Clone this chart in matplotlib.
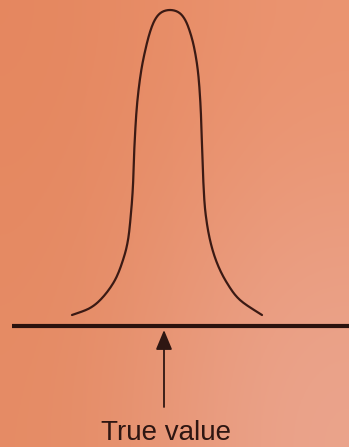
import numpy as np
import matplotlib
matplotlib.use("Agg")
import matplotlib.pyplot as plt
from matplotlib.colors import to_rgb

curve_x = [72, 90, 103, 115, 123, 128, 131, 133, 134.5, 137, 141, 146, 151, 156, 162, 170,
           178, 184, 189, 194, 198, 200.5, 202, 203.5, 205.5, 210, 217, 227, 240, 262]
curve_y = [315, 308, 297, 280, 260, 240, 213, 185, 145, 105, 72, 47, 29, 18, 12, 10,
           12, 18, 29, 47, 72, 105, 145, 185, 213, 240, 263, 283, 300, 315]

true_value = 164
baseline = 326
label = "True value"


def smooth(xs, ys, n=12):
    # Catmull-Rom pass so the traced outline is drawn without corners
    p = np.column_stack([xs, ys]).astype(float)
    p = np.vstack([p[0], p, p[-1]])
    out = []
    t = np.linspace(0, 1, n, endpoint=False)[:, None]
    for i in range(1, len(p) - 2):
        p0, p1, p2, p3 = p[i - 1], p[i], p[i + 1], p[i + 2]
        seg = 0.5 * (2 * p1 + (-p0 + p2) * t + (2 * p0 - 5 * p1 + 4 * p2 - p3) * t ** 2
                     + (-p0 + 3 * p1 - 3 * p2 + p3) * t ** 3)
        out.append(seg)
    out.append(p[-2][None, :])
    out = np.vstack(out)
    return out[:, 0], out[:, 1]


W, H = 349, 447
fig = plt.figure(figsize=(W / 100, H / 100), dpi=100)
ax = fig.add_axes([0, 0, 1, 1])
ax.set_xlim(0, W)
ax.set_ylim(H, 0)
ax.axis("off")

# paper background, warmer at top left and paler towards bottom right
corners = np.array([[to_rgb("#e5875f"), to_rgb("#eb9470")],
                    [to_rgb("#e58b64"), to_rgb("#eba58e")]])
ax.imshow(corners, extent=(0, W, H, 0), interpolation="bicubic", aspect="auto", zorder=0)

ink = "#3b1a14"
sx, sy = smooth(curve_x, curve_y)
ax.plot(sx, sy, color=ink, lw=1.6, solid_capstyle="round", zorder=2)
ax.plot([12, W], [baseline, baseline], color="#2a120e", lw=3, solid_capstyle="butt", zorder=2)

ax.annotate("", xy=(true_value, 330), xytext=(true_value, 407),
            arrowprops=dict(arrowstyle="-|>,head_length=1.2,head_width=0.5", color="#2e1612", lw=1.3,
                            shrinkA=0, shrinkB=0), zorder=3)
ax.text(true_value + 2, 440, label, ha="center", va="baseline", fontsize=20,
        family="Liberation Sans", color="#2e1612", zorder=3)

fig.savefig("out.png", dpi=100)
